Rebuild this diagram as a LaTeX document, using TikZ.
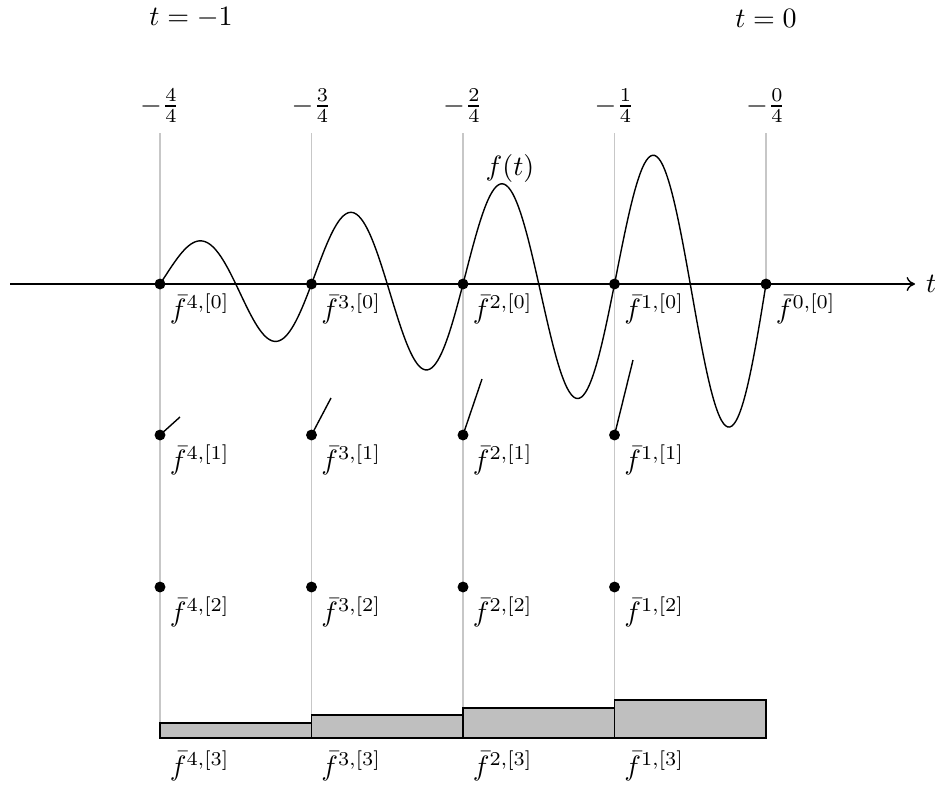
\documentclass[tikz,border=0pt]{standalone}
\usetikzlibrary{arrows.meta}
\begin{document}
\begin{tikzpicture}[x=0.357pt,y=-0.357pt,
  grid/.style={draw=black!22,line width=0.4pt},
  dotnode/.style={circle,fill=black,inner sep=0pt,minimum size=3.9pt},
  lab/.style={anchor=north west,inner sep=2pt},
  bar/.style={draw=black,fill=black!25,line width=0.5pt},
  curve/.style={line width=0.5pt}]
\useasboundingbox (0,0) rectangle (935,786);
% top labels
\node (tm1) at (191,18) {$t=-1$};
\node (t0) at (766,18) {$t=0$};
\foreach \k/\n in {0/4,1/3,2/2,3/1,4/0}{
  \node (q\n) at ({160+151.5*\k},106) {$-\frac{\n}{4}$};
}
% vertical lines
\foreach \k/\top in {0/723,1/715,2/708,3/700}{
  \coordinate (vt\k) at ({160+151.5*\k},133);
  \coordinate (vb\k) at ({160+151.5*\k},\top);
  \draw[grid] (vt\k) -- (vb\k);
}
\coordinate (vt4) at (766,133);
\coordinate (vb4) at (766,284);
\draw[grid] (vt4) -- (vb4);
% axis
\coordinate (ax0) at (10,284);
\coordinate (ax1) at (915,284);
\draw[-{To[length=3pt,width=5pt]},line width=0.5pt] (ax0) -- (ax1);
\node[anchor=west,inner sep=2pt] (tlab) at (920,284) {$t$};
% curve
\draw[curve] plot[domain=160:766,samples=300,smooth] (\x,{284-(35.8+0.1887*(\x-160))*sin(2.376238*(\x-160))});
\node (flab) at (510,168) {$f(t)$};
% row 0 dots
\foreach \k/\n in {0/4,1/3,2/2,3/1,4/0}{
  \node[dotnode] (d\n0) at ({160+151.5*\k},284) {};
  \node[lab] (l\n0) at ([xshift=1.3pt,yshift=-1.2pt]d\n0.center) {$\bar{f}^{\n,[0]}$};
}
% rows 1 and 2
\foreach \k/\n in {0/4,1/3,2/2,3/1}{
  \node[dotnode] (d\n1) at ({160+151.5*\k},435) {};
  \node[lab] (l\n1) at ([xshift=1.3pt,yshift=-1.2pt]d\n1.center) {$\bar{f}^{\n,[1]}$};
  \node[dotnode] (d\n2) at ({160+151.5*\k},587) {};
  \node[lab] (l\n2) at ([xshift=1.3pt,yshift=-1.2pt]d\n2.center) {$\bar{f}^{\n,[2]}$};
}
% derivative segments
\coordinate (s4) at (180,417);
\coordinate (s3) at (331,398);
\coordinate (s2) at (482,379);
\coordinate (s1) at (633,360);
\foreach \n in {4,3,2,1}{
  \draw[line width=0.5pt] (d\n1.center) -- (s\n);
}
% bars
\foreach \k/\n/\top in {0/4/723,1/3/715,2/2/708,3/1/700}{
  \draw[bar] ({160+151.5*\k},738) rectangle ({160+151.5*(\k+1)},\top);
  \coordinate (b\n) at ({160+151.5*\k},738);
  \node[lab] (l\n3) at ([xshift=1.3pt,yshift=-2.2pt]b\n) {$\bar{f}^{\n,[3]}$};
}
\end{tikzpicture}
\end{document}
